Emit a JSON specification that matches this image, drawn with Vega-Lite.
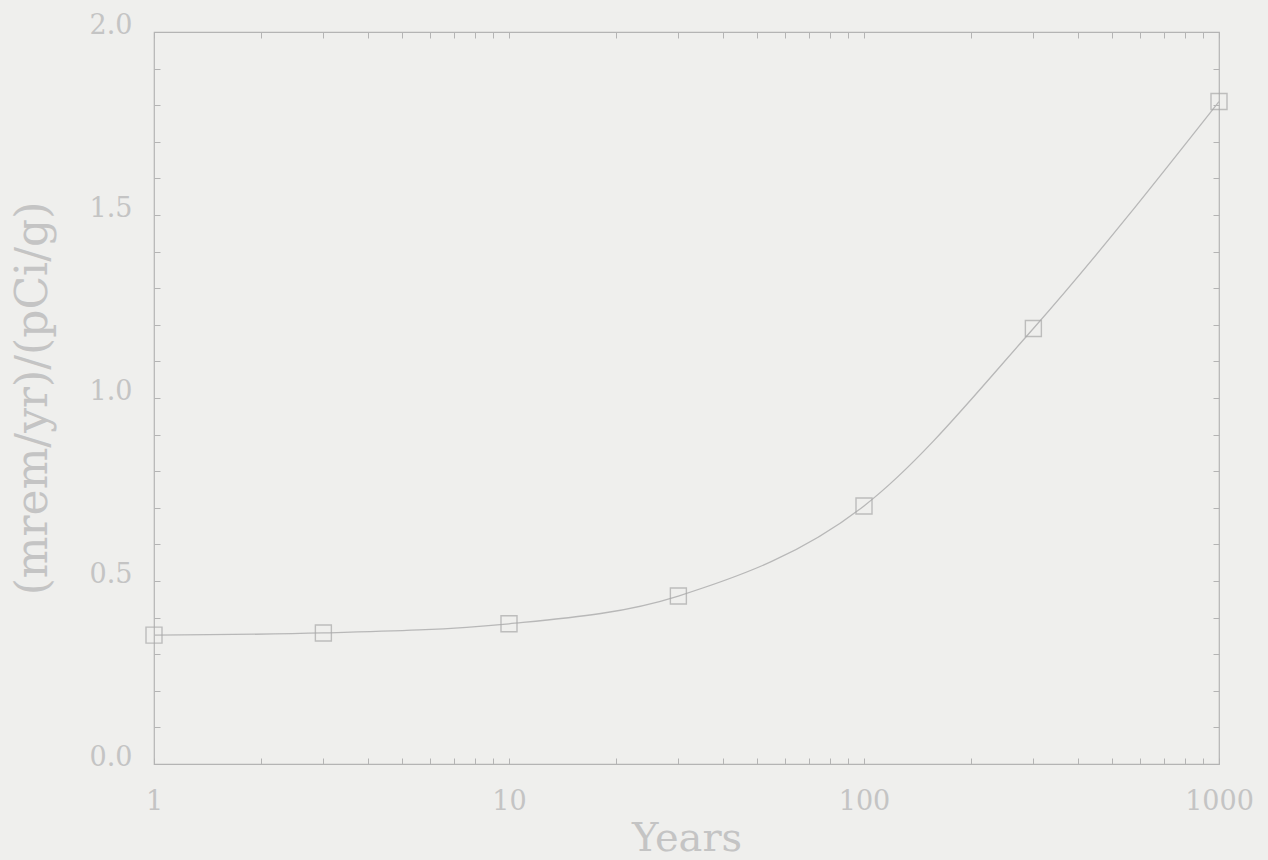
{
  "$schema": "https://vega.github.io/schema/vega-lite/v6.json",
  "width": 1065,
  "height": 732,
  "autosize": {"type": "none"},
  "padding": {"left": 154, "top": 32, "right": 49, "bottom": 96},
  "background": "#efefed",
  "config": {
    "view": {"stroke": "#b4b4b4", "strokeWidth": 1.2},
    "axis": {
      "domain": false,
      "grid": false,
      "tickColor": "#b4b4b4",
      "tickSize": -6,
      "tickWidth": 1,
      "labelFont": "DejaVu Serif",
      "labelFontSize": 27,
      "labelColor": "#c4c4c4",
      "titleFont": "DejaVu Serif",
      "titleFontWeight": "normal",
      "titleColor": "#c4c4c4",
      "titleFontSize": 40
    }
  },
  "data": {
    "values": [
      {"years": 1, "dose": 0.352},
      {"years": 3, "dose": 0.358},
      {"years": 10, "dose": 0.383},
      {"years": 30, "dose": 0.459},
      {"years": 100, "dose": 0.705},
      {"years": 300, "dose": 1.19},
      {"years": 1000, "dose": 1.81}
    ]
  },
  "resolve": {"axis": {"x": "independent", "y": "independent"}},
  "layer": [
    {
      "mark": {"type": "line", "interpolate": "monotone", "color": "#b8b8b8", "strokeWidth": 1.3},
      "encoding": {
        "x": {
          "field": "years",
          "type": "quantitative",
          "scale": {"type": "log", "domain": [1, 1000], "nice": false},
          "axis": {
            "orient": "bottom",
            "title": "Years",
            "values": [1,2,3,4,5,6,7,8,9,10,20,30,40,50,60,70,80,90,100,200,300,400,500,600,700,800,900,1000],
            "labelExpr": "indexof([1,10,100,1000], datum.value) >= 0 ? datum.label : ''",
            "format": "d",
            "labelPadding": 30,
            "labelFlush": false,
            "labelOverlap": false,
            "titlePadding": 4
          }
        },
        "y": {
          "field": "dose",
          "type": "quantitative",
          "scale": {"domain": [0, 2], "nice": false, "zero": true},
          "axis": {
            "orient": "left",
            "title": "(mrem/yr)/(pCi/g)",
            "titleFontSize": 44,
            "values": [0,0.1,0.2,0.3,0.4,0.5,0.6,0.7,0.8,0.9,1,1.1,1.2,1.3,1.4,1.5,1.6,1.7,1.8,1.9,2],
            "labelExpr": "abs(datum.value*2 - round(datum.value*2)) < 0.001 ? format(datum.value, '.1f') : ''",
            "labelPadding": 28,
            "labelOffset": -7,
            "labelOverlap": false,
            "labelFlush": false,
            "titlePadding": 34
          }
        }
      }
    },
    {
      "mark": {"type": "point", "shape": "square", "size": 256, "filled": false, "color": "#a8a8a8", "strokeWidth": 1.4},
      "encoding": {
        "x": {"field": "years", "type": "quantitative", "axis": null},
        "y": {"field": "dose", "type": "quantitative", "axis": null}
      }
    },
    {
      "mark": {"type": "point", "opacity": 0},
      "encoding": {
        "x": {"field": "years", "type": "quantitative", "axis": {"orient": "top", "title": null, "labels": false, "values": [1,2,3,4,5,6,7,8,9,10,20,30,40,50,60,70,80,90,100,200,300,400,500,600,700,800,900,1000]}},
        "y": {"field": "dose", "type": "quantitative", "axis": {"orient": "right", "title": null, "labels": false, "values": [0,0.1,0.2,0.3,0.4,0.5,0.6,0.7,0.8,0.9,1,1.1,1.2,1.3,1.4,1.5,1.6,1.7,1.8,1.9,2]}}
      }
    }
  ]
}
